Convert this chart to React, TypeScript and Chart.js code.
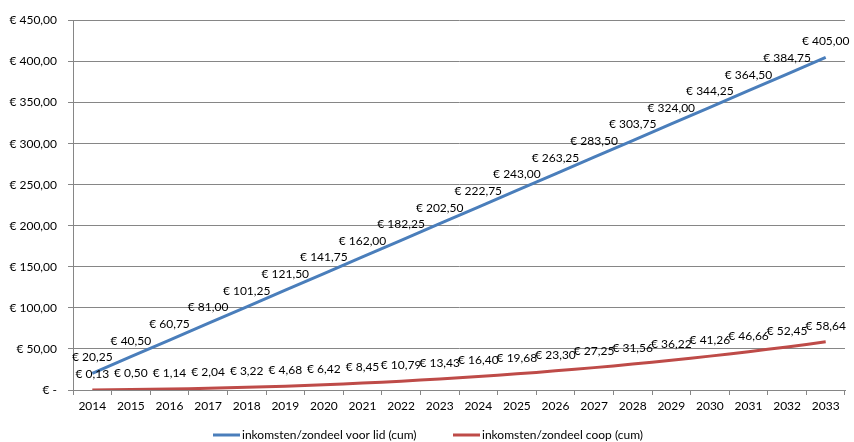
import React, { useEffect, useRef } from "react";
import { Chart, registerables } from "chart.js";

Chart.register(...registerables);

const years = ["2014","2015","2016","2017","2018","2019","2020","2021","2022","2023","2024","2025","2026","2027","2028","2029","2030","2031","2032","2033"];
const lidValues = [20.25, 40.5, 60.75, 81.0, 101.25, 121.5, 141.75, 162.0, 182.25, 202.5, 222.75, 243.0, 263.25, 283.5, 303.75, 324.0, 344.25, 364.5, 384.75, 405.0];
const coopValues = [0.13, 0.5, 1.14, 2.04, 3.22, 4.68, 6.42, 8.45, 10.79, 13.43, 16.4, 19.68, 23.3, 27.25, 31.56, 36.22, 41.26, 46.66, 52.45, 58.64];
const seriesNames = ["inkomsten/zondeel voor lid (cum)", "inkomsten/zondeel coop (cum)"];
const seriesColors = ["#4A7EBB", "#BE4B48"];
const yMin = 0;
const yMax = 450;
const yStep = 50;

const FONT = "Lato, 'Open Sans', sans-serif";

const euro = (v: number) => (v === 0 ? "€ -" : "€ " + v.toFixed(2).replace(".", ","));

const labelPlugin = {
  id: "dataLabels",
  afterDatasetsDraw(chart: any) {
    const ctx = chart.ctx;
    ctx.save();
    ctx.font = "12px " + FONT;
    ctx.fillStyle = "#000";
    ctx.textAlign = "center";
    ctx.textBaseline = "middle";
    chart.data.datasets.forEach((ds: any, i: number) => {
      const meta = chart.getDatasetMeta(i);
      meta.data.forEach((pt: any, j: number) => {
        ctx.fillText(euro(ds.data[j]), pt.x, pt.y - 16);
      });
    });
    ctx.restore();
  },
};

const legendPlugin = {
  id: "customLegend",
  afterDraw(chart: any) {
    const ctx = chart.ctx;
    ctx.save();
    ctx.font = "12px " + FONT;
    ctx.fillStyle = "#000";
    ctx.textBaseline = "middle";
    ctx.textAlign = "left";
    const y = 435;
    const starts = [213, 453];
    chart.data.datasets.forEach((ds: any, i: number) => {
      const x = starts[i];
      ctx.strokeStyle = ds.borderColor;
      ctx.lineWidth = 3;
      ctx.beginPath();
      ctx.moveTo(x, y);
      ctx.lineTo(x + 27, y);
      ctx.stroke();
      ctx.fillText(ds.label, x + 29, y);
    });
    ctx.restore();
  },
};

export default function App() {
  const ref = useRef<HTMLCanvasElement | null>(null);
  useEffect(() => {
    document.body.style.margin = "0";
    const chart = new Chart(ref.current as HTMLCanvasElement, {
      type: "line",
      data: {
        labels: years,
        datasets: [
          {
            label: seriesNames[0],
            data: lidValues,
            borderColor: seriesColors[0],
            backgroundColor: seriesColors[0],
            borderWidth: 3,
            pointRadius: 0,
            tension: 0,
          },
          {
            label: seriesNames[1],
            data: coopValues,
            borderColor: seriesColors[1],
            backgroundColor: seriesColors[1],
            borderWidth: 3,
            pointRadius: 0,
            tension: 0.35,
          },
        ],
      },
      options: {
        animation: false,
        responsive: false,
        devicePixelRatio: 1,
        layout: { padding: { left: 0, right: 9, top: 20.5, bottom: 0 } },
        plugins: { legend: { display: false }, tooltip: { enabled: false } },
        scales: {
          x: {
            offset: true,
            grid: { offset: true, drawOnChartArea: false, drawTicks: true, tickLength: 5, color: "#868686" },
            border: { color: "#868686", width: 1 },
            ticks: { color: "#000", font: { family: FONT, size: 12 }, padding: 4, maxRotation: 0, autoSkip: false },
            afterFit(scale: any) {
              scale.height = 442 - 20.5 - 369.5;
            },
          },
          y: {
            min: yMin,
            max: yMax,
            grid: { color: "#868686", tickLength: 5, drawTicks: true },
            border: { color: "#868686", width: 1 },
            ticks: {
              stepSize: yStep,
              color: "#000",
              font: { family: FONT, size: 12 },
              padding: 11,
              callback: (v: any) => euro(Number(v)),
            },
            afterFit(scale: any) {
              scale.width = 73;
            },
          },
        },
      },
      plugins: [labelPlugin, legendPlugin],
    });
    return () => chart.destroy();
  }, []);
  return (
    <div style={{ position: "absolute", left: 0, top: 0, width: 854, height: 442, background: "#fff" }}>
      <canvas ref={ref} width={854} height={442} />
    </div>
  );
}
